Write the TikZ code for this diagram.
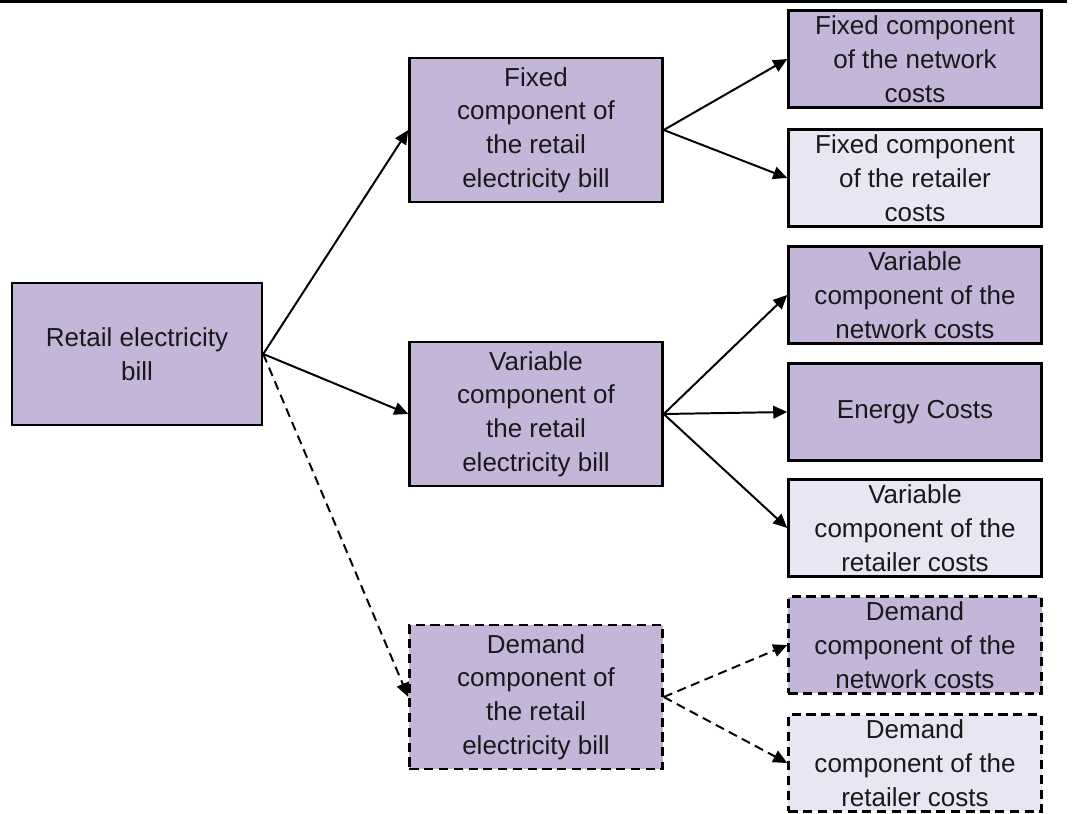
\documentclass[tikz,border=0pt]{standalone}
\usepackage{fontspec}
\setmainfont{Liberation Sans}
\usetikzlibrary{arrows.meta}
\definecolor{lilac}{HTML}{C3B6D9}
\definecolor{palelilac}{HTML}{E9E5F2}
\tikzset{
  box/.style={draw=black, line width=1.7pt, fill=lilac, align=center, inner sep=0pt,
    font=\fontsize{18.5}{24}\selectfont, text=black!90},
  bigbox/.style={box, minimum width=6.325cm, minimum height=3.6cm},
  smallbox/.style={box, minimum width=6.325cm, minimum height=2.42cm},
  pale/.style={fill=palelilac},
  dashbox/.style={dash pattern=on 6.5pt off 4pt},
  link/.style={line width=1.4pt, -{Triangle[length=10pt,width=9pt]}},
  dashlink/.style={link, dash pattern=on 6.5pt off 4pt}
}
\begin{document}
\begin{tikzpicture}[x=0.025cm,y=-0.025cm]
\useasboundingbox (0,0) rectangle (1072,814);
\draw[line width=0.075cm] (0,1.5) -- (1067,1.5);

\node[box, minimum width=6.25cm, minimum height=3.55cm] (root) at (137,354) {Retail electricity\\bill};

\node[bigbox] (fix) at (536,130) {Fixed\\component of\\the retail\\electricity bill};
\node[bigbox] (var) at (536,414) {Variable\\component of\\the retail\\electricity bill};
\node[bigbox, dashbox] (dem) at (536,697) {Demand\\component of\\the retail\\electricity bill};

\node[smallbox] (fixnet) at (915,59) {Fixed component\\of the network\\costs};
\node[smallbox, pale] (fixret) at (915,178) {Fixed component\\of the retailer\\costs};
\node[smallbox] (varnet) at (915,295) {Variable\\component of the\\network costs};
\node[smallbox] (energy) at (915,412) {Energy Costs};
\node[smallbox, pale] (varret) at (915,528) {Variable\\component of the\\retailer costs};
\node[smallbox, dashbox] (demnet) at (915,645) {Demand\\component of the\\network costs};
\node[smallbox, pale, dashbox] (demret) at (915,763) {Demand\\component of the\\retailer costs};

\draw[link] (root.east) -- (fix.west);
\draw[link] (root.east) -- (var.west);
\draw[dashlink] (root.east) -- (dem.west);

\draw[link] (fix.east) -- (fixnet.west);
\draw[link] (fix.east) -- (fixret.west);

\draw[link] (var.east) -- (varnet.west);
\draw[link] (var.east) -- (energy.west);
\draw[link] (var.east) -- (varret.west);

\draw[dashlink] (dem.east) -- (demnet.west);
\draw[dashlink] (dem.east) -- (demret.west);
\end{tikzpicture}
\end{document}
